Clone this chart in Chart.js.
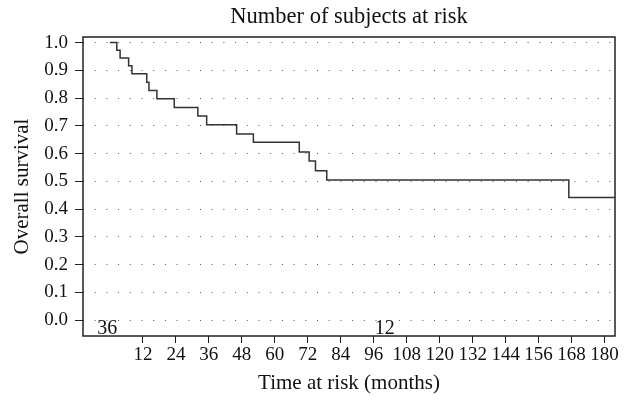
<!DOCTYPE html>
<html>
<head>
<meta charset="utf-8">
<script src="https://cdn.jsdelivr.net/npm/chart.js@4"></script>
<style>
  html, body { margin: 0; padding: 0; background: #ffffff; }
  #wrap { width: 632px; height: 402px; }
</style>
</head>
<body>
<div id="wrap"><canvas id="c" width="632" height="402"></canvas></div>
<script>
// Kaplan-Meier step curve (time in months, overall survival)
const times = [0, 2.5, 3.7, 6.8, 8.0, 13.4, 14.2, 17.1, 23.4, 32.0, 35.2, 46.1, 52.2, 68.9, 72.5, 74.8, 78.9, 167.0, 184];
const survival = [1.0, 0.972, 0.944, 0.916, 0.888, 0.857, 0.827, 0.798, 0.766, 0.735, 0.704, 0.671, 0.641, 0.606, 0.573, 0.538, 0.505, 0.442, 0.442];

// axis tick labels
const xTicks = [12, 24, 36, 48, 60, 72, 84, 96, 108, 120, 132, 144, 156, 168, 180];
const yTicks = [0.0, 0.1, 0.2, 0.3, 0.4, 0.5, 0.6, 0.7, 0.8, 0.9, 1.0];

// number at risk labels
const riskTimes = [-1, 100];
const riskCounts = ['36', '12'];

const FONT = "'Liberation Serif', 'DejaVu Serif', serif";

const points = times.map((t, i) => ({ x: t, y: survival[i] }));

const boxPlugin = {
  id: 'boxPlugin',
  afterDraw(chart) {
    const { ctx, chartArea: a, scales } = chart;
    ctx.save();
    ctx.strokeStyle = '#222';
    ctx.lineWidth = 1.5;
    ctx.strokeRect(a.left, a.top, a.right - a.left, a.bottom - a.top);
    // number-at-risk labels
    ctx.fillStyle = '#111';
    ctx.font = "20px " + FONT;
    ctx.textAlign = 'center';
    ctx.textBaseline = 'middle';
    const yMid = (scales.y.getPixelForValue(0) + a.bottom) / 2;
    riskTimes.forEach((t, i) => {
      ctx.fillText(riskCounts[i], scales.x.getPixelForValue(t), yMid + 1);
    });
    ctx.restore();
  }
};

new Chart(document.getElementById('c'), {
  type: 'line',
  data: {
    datasets: [{
      data: points,
      stepped: 'before',
      borderColor: '#333333',
      borderWidth: 1.5,
      pointRadius: 0,
      fill: false,
      tension: 0
    }]
  },
  options: {
    responsive: false,
    animation: false,
    devicePixelRatio: 1,
    layout: { padding: { left: 0, right: 17, top: 0, bottom: 0 } },
    plugins: {
      legend: { display: false },
      tooltip: { enabled: false },
      title: {
        display: true,
        fullSize: false,
        text: 'Number of subjects at risk',
        color: '#111',
        font: { family: FONT, size: 22.5, weight: 'normal', lineHeight: 1.2 },
        padding: { top: 3.5, bottom: 6.5 }
      }
    },
    scales: {
      x: {
        type: 'linear',
        min: -9.8,
        max: 183.8,
        afterBuildTicks: (s) => { s.ticks = xTicks.map(v => ({ value: v })); },
        afterFit: (s) => { s.height = 66; },
        border: { display: false },
        grid: {
          drawOnChartArea: false,
          drawTicks: true,
          tickLength: 7,
          tickColor: '#222',
          tickWidth: 1
        },
        ticks: {
          autoSkip: false,
          maxRotation: 0,
          padding: 1,
          color: '#111',
          font: { family: FONT, size: 19 },
          callback: (v) => String(v)
        },
        title: {
          display: true,
          text: 'Time at risk (months)',
          color: '#111',
          font: { family: FONT, size: 21, lineHeight: 1.2 },
          padding: { top: 0, bottom: 6.4 }
        }
      },
      y: {
        min: -0.057,
        max: 1.02,
        afterBuildTicks: (s) => { s.ticks = yTicks.map(v => ({ value: v })); },
        afterFit: (s) => { s.width = 83; },
        border: { display: false, dash: [1, 10.7] },
        grid: {
          drawOnChartArea: true,
          color: '#555',
          lineWidth: 1,
          drawTicks: true,
          tickLength: 8,
          tickColor: '#222',
          tickWidth: 1,
          tickBorderDash: []
        },
        ticks: {
          padding: 7,
          color: '#111',
          font: { family: FONT, size: 19 },
          callback: (v) => Number(v).toFixed(1)
        },
        title: {
          display: true,
          text: 'Overall survival',
          color: '#111',
          font: { family: FONT, size: 21, lineHeight: 1.2 },
          padding: { top: 9.4, bottom: 0 }
        }
      }
    }
  },
  plugins: [boxPlugin]
});
</script>
</body>
</html>
